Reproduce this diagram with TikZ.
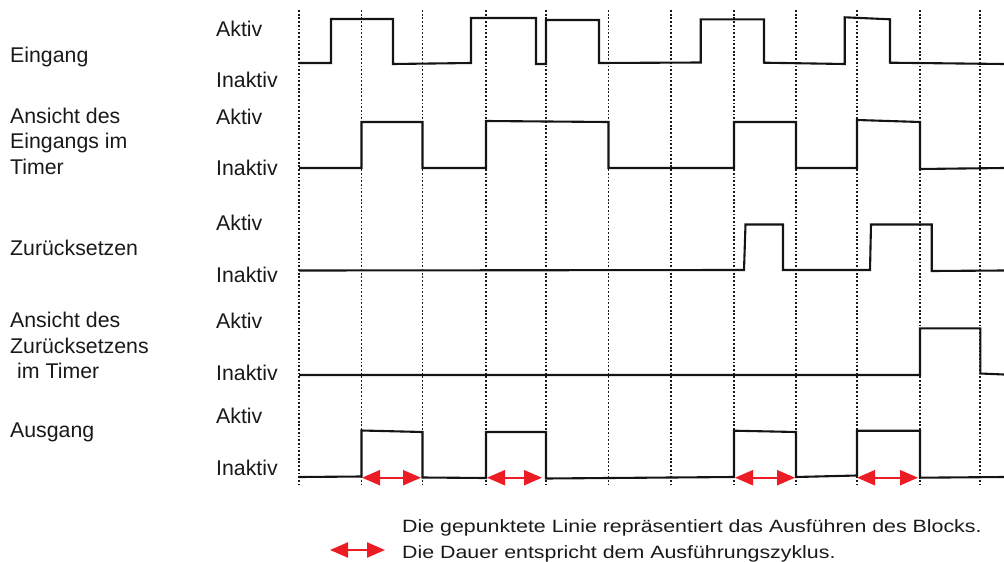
\documentclass[tikz,border=0pt]{standalone}
\usepackage{fontspec}
\setmainfont{Liberation Sans}
\newfontfamily\legendfont[FakeStretch=1.2]{Liberation Sans}
\usetikzlibrary{arrows.meta}
\definecolor{arrred}{RGB}{236,28,36}
\definecolor{wave}{RGB}{20,20,20}
\begin{document}
\begin{tikzpicture}[x=1pt,y=-1pt,
  lab/.style={anchor=base west,inner sep=0pt,font=\fontsize{21.3}{25}\selectfont,text=black!90},
  leg/.style={anchor=base west,inner sep=0pt,font=\legendfont\fontsize{17.8}{21}\selectfont,text=black!90},
  tick/.style={draw=black!90,line width=1.8pt,dash pattern=on 1.8pt off 1.9pt},
  sig/.style={draw=wave,line width=2.1pt,line join=miter},
  cyc/.style={draw=arrred,line width=2.2pt,{Triangle[length=18pt,width=15pt]}-{Triangle[length=18pt,width=15pt]}}]
\useasboundingbox (0,0) rectangle (1004,562);
% dotted execution lines
\foreach \n/\x in {0/299,1/361.5,2/422.5,3/486,4/546,5/608.5,6/671,7/734,8/796,9/857,10/920,11/980}{
  \coordinate (t\n) at (\x,10);
  \coordinate (b\n) at (\x,487);
  \draw[tick] (t\n) -- (b\n);
}
% left labels
\node[lab] (lEin) at (10,62) {Eingang};
\node[lab] (lAE1) at (10,123) {Ansicht des};
\node[lab] (lAE2) at (10,148.5) {Eingangs im};
\node[lab] (lAE3) at (10,174) {Timer};
\node[lab] (lZur) at (10,255) {Zurücksetzen};
\node[lab] (lAZ1) at (10,327) {Ansicht des};
\node[lab] (lAZ2) at (10,353) {Zurücksetzens};
\node[lab] (lAZ3) at (17,378) {im Timer};
\node[lab] (lAus) at (10,437) {Ausgang};
% level labels
\foreach \n/\ya/\yi in {1/36/87,2/124/175,3/230/282,4/328/380,5/423/475}{
  \node[lab] (akt\n) at (216,\ya) {Aktiv};
  \node[lab] (ina\n) at (216,\yi) {Inaktiv};
}
% Eingang
\draw[sig] (299,63) -- (331,63) -- (331,19) -- (393,19) -- (393,64) -- (471,63) -- (471,18) -- (536,18) -- (536,64) -- (546,64) -- (546,20) -- (599,20) -- (599,63) -- (700.7,62.5) -- (700.7,19.3) -- (764,19.3) -- (764,62.7) -- (844.7,64) -- (844.7,17.3) -- (890,19.3) -- (890,62.7) -- (1004,64);
% Ansicht des Eingangs im Timer
\draw[sig] (299,168) -- (361.5,168) -- (361.5,122) -- (422.5,122) -- (422.5,168) -- (486,168) -- (486,121) -- (608.5,122) -- (608.5,168) -- (734,168) -- (734,122) -- (796,122) -- (796,168) -- (857,168) -- (857,120) -- (920,122) -- (920,169) -- (1004,168);
% Zuruecksetzen
\draw[sig] (299,270.5) -- (744,270) -- (745.5,224.5) -- (783,224.5) -- (783,270) -- (870,270) -- (871,224.5) -- (931.7,224.5) -- (931.7,271) -- (1004,270.5);
% Ansicht des Zuruecksetzens im Timer
\draw[sig] (299,375) -- (920,375) -- (920,328.3) -- (980.3,328.3) -- (980.3,373.5) -- (1004,374.5);
% Ausgang
\draw[sig] (299,477) -- (361.5,476.5) -- (361.5,430.5) -- (422.5,432) -- (422.5,477.5) -- (486,478) -- (486,432) -- (546,432) -- (546,478.5) -- (734,477) -- (734,430.7) -- (796,432) -- (796,477) -- (857,475.5) -- (857,430.7) -- (920,430.7) -- (920,477.7) -- (1004,477);
% cycle arrows
\coordinate (a1) at (362,477.7); \coordinate (a1e) at (421,477.7);
\coordinate (a2) at (487,477.7); \coordinate (a2e) at (542,477.7);
\coordinate (a3) at (735,477.7); \coordinate (a3e) at (795,477.7);
\coordinate (a4) at (857,477.7); \coordinate (a4e) at (918,477.7);
\draw[cyc] (a1) -- (a1e);
\draw[cyc] (a2) -- (a2e);
\draw[cyc] (a3) -- (a3e);
\draw[cyc] (a4) -- (a4e);
% legend
\coordinate (la) at (330,550); \coordinate (lb) at (385,550);
\draw[cyc] (la) -- (lb);
\node[leg] (leg1) at (402,532) {Die gepunktete Linie repräsentiert das Ausführen des Blocks.};
\node[leg] (leg2) at (402,558) {Die Dauer entspricht dem Ausführungszyklus.};
\end{tikzpicture}
\end{document}
